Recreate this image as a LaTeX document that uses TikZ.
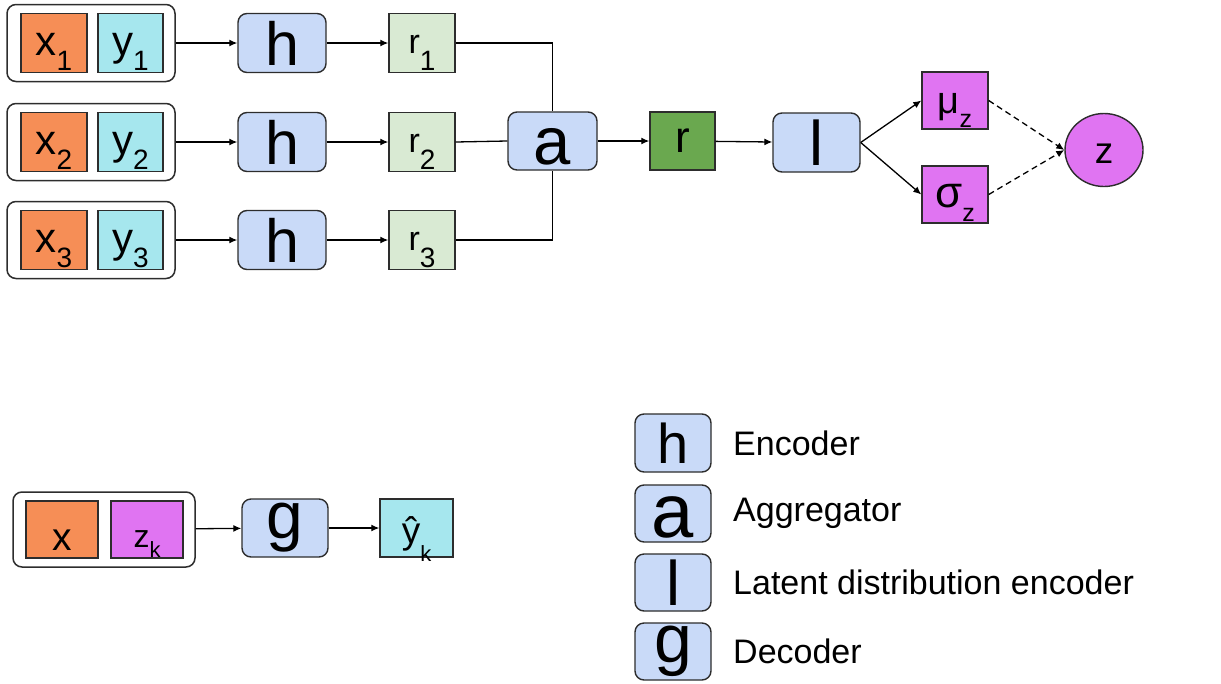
\documentclass[tikz,border=0pt]{standalone}
\usepackage{fontspec}
\setmainfont{Liberation Sans}
\usetikzlibrary{arrows.meta,shapes.geometric}

\definecolor{corange}{RGB}{246,142,86}
\definecolor{ccyan}{RGB}{166,231,238}
\definecolor{cblue}{RGB}{201,218,248}
\definecolor{cgreen}{RGB}{217,234,211}
\definecolor{cdkgreen}{RGB}{106,168,79}
\definecolor{cmag}{RGB}{224,116,242}
\definecolor{cedge}{RGB}{45,45,45}

% main symbol with a lowered subscript: {main}{sub}{main size}{sub size}{drop}
\newcommand{\symsub}[5]{{\fontsize{#3}{#3}\selectfont #1}\raisebox{-#5pt}{\fontsize{#4}{#4}\selectfont #2}}
\newcommand{\fs}[2]{{\fontsize{#1}{#1}\selectfont #2}}

\tikzset{
  base/.style={draw=cedge, line width=1.4pt, inner sep=0pt},
  group/.style={base, rounded corners=9pt, line width=1.5pt},
  sq/.style={base, minimum width=66pt, minimum height=59pt},
  fn/.style={base, rounded corners=9pt, fill=cblue, minimum height=59pt},
  conn/.style={line width=1.3pt, draw=black},
  arr/.style={conn, -{Latex[length=8pt,width=7pt]}},
  darr/.style={arr, dashed, dash pattern=on 6pt off 4pt},
  lowtext/.style={text height=#1pt, text depth=0pt},
}

\begin{document}
\begin{tikzpicture}[x=1pt,y=-1pt]
\useasboundingbox (0,0) rectangle (1221,683);

% context pairs
\foreach \i/\cy in {1/43,2/142,3/240}{
  \node[group, minimum width=168pt, minimum height=77pt] (g\i) at (91,\cy) {};
  \node[sq, fill=corange, lowtext=25] (x\i) at (54,\cy) {\symsub{x}{\i}{42}{28}{15}};
  \node[sq, fill=ccyan, minimum width=65pt, lowtext=25] (y\i) at (130.5,\cy) {\symsub{y}{\i}{42}{28}{15}};
  \node[fn, minimum width=88pt] (h\i) at (282,\cy) {\fs{61}{h}};
  \node[sq, fill=cgreen, lowtext=21] (r\i) at (422,\cy) {\symsub{r}{\i}{34}{28}{17}};
  \draw[arr] (g\i) -- (h\i);
  \draw[arr] (h\i) -- (r\i);
}

% aggregation and latent path
\node[fn, minimum width=89pt, minimum height=58pt, lowtext=46] (a) at (552.5,141) {\fs{67}{a}};
\node[sq, fill=cdkgreen, minimum width=65pt, minimum height=58pt] (r) at (682.5,141) {\fs{44}{r}};
\node[fn, minimum width=87pt] (l) at (816.5,142.5) {\fs{63}{l}};
\node[sq, fill=cmag, minimum height=57pt, lowtext=25] (mu) at (955,100.5) {\symsub{μ}{z}{38}{25}{14}};
\node[sq, fill=cmag, minimum height=57pt, lowtext=25] (sigma) at (955,194.5) {\symsub{σ}{z}{44}{25}{14}};
\node[base, ellipse, fill=cmag, minimum width=78pt, minimum height=73pt, lowtext=26] (z) at (1104,150) {\fs{37}{z}};

\draw[conn] (r1.east) -| (a.north);
\draw[conn] (r2.east) -- (a.west);
\draw[conn] (r3.east) -| (a.south);
\draw[arr] (a) -- (r);
\draw[arr] (r) -- (l);
\draw[arr] (l.east) -- (mu.west);
\draw[arr] (l.east) -- (sigma.west);
\draw[darr] (mu.east) -- (z.west);
\draw[darr] (sigma.east) -- (z.west);

% decoder
\node[group, minimum width=182pt, minimum height=75pt] (gt) at (104,529.5) {};
\node[sq, fill=corange, minimum width=72pt, minimum height=57pt, lowtext=41] (xt) at (62,529.5) {\fs{39}{x}};
\node[sq, fill=cmag, minimum width=72pt, minimum height=57pt, lowtext=35] (zk) at (147,529.5) {\symsub{z}{k}{32}{22}{10}};
\node[fn, minimum width=86pt, minimum height=58pt] (g) at (285,528) {\fs{66}{g}};
\node[sq, fill=ccyan, minimum width=73pt, minimum height=58pt, lowtext=30] (yk) at (416.5,528) {\symsub{ŷ}{k}{37}{22}{18}};
\draw[arr] (gt) -- (g);
\draw[arr] (g) -- (yk);

% legend
\tikzset{leg/.style={fn, minimum width=76pt, minimum height=58pt},
         legtext/.style={anchor=west, inner sep=0pt, font=\fontsize{34}{34}\selectfont}}
\node[leg] (lh) at (673,443) {\fs{56}{h}};
\node[leg, minimum height=57pt, lowtext=48] (la) at (673,513.5) {\fs{76}{a}};
\node[leg, minimum height=57pt] (ll) at (673,582.5) {\fs{63}{l}};
\node[leg, minimum height=57pt] (lg) at (673,651.5) {\fs{68}{g}};
\node[legtext] (th) at (733,443) {Encoder};
\node[legtext] (ta) at (733,513.5) {Aggregator};
\node[legtext] (tl) at (733,582.5) {Latent distribution encoder};
\node[legtext] (tg) at (733,651.5) {Decoder};
\end{tikzpicture}
\end{document}
